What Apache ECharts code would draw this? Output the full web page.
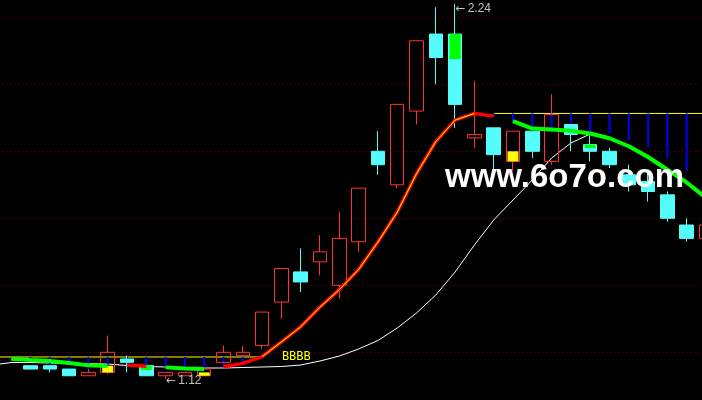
<!DOCTYPE html>
<html><head><meta charset="utf-8">
<script src="https://cdn.jsdelivr.net/npm/echarts@6/dist/echarts.min.js"></script>
<style>html,body{margin:0;padding:0;background:#000;}#c{width:702px;height:400px;}</style>
</head><body><div id="c"></div>
<script>
// ---- data (one entry per trading day, leftmost two days only carry line values) ----
const days = ['1','2','3','4','5','6','7','8','9','10','11','12','13','14','15','16','17','18','19','20',
  '21','22','23','24','25','26','27','28','29','30','31','32','33','34','35','36','37','38'];
const openP  = ['-','-',1.16,1.16,1.15,1.13,1.14,1.18,1.16,1.13,1.13,1.13,1.17,1.19,1.22,1.35,1.44,1.47,1.40,1.53,
  1.80,1.70,1.92,2.15,2.15,1.84,1.87,1.77,1.86,1.77,1.88,1.82,1.80,1.73,1.71,1.67,1.58,1.54];
const closeP = ['-','-',1.15,1.15,1.13,1.14,1.20,1.17,1.13,1.14,1.14,1.15,1.20,1.20,1.32,1.45,1.41,1.50,1.54,1.69,
  1.76,1.94,2.13,2.08,1.94,1.85,1.79,1.86,1.80,1.91,1.85,1.80,1.76,1.70,1.68,1.60,1.54,1.58];
const lowP   = ['-','-',1.15,1.14,1.13,1.13,1.135,1.14,1.13,1.12,1.13,1.13,1.17,1.19,1.21,1.30,1.38,1.43,1.36,1.50,
  1.73,1.69,1.88,2.00,1.87,1.81,1.74,1.74,1.78,1.76,1.80,1.77,1.75,1.68,1.65,1.59,1.53,1.54];
const highP  = ['-','-',1.16,1.16,1.15,1.15,1.25,1.19,1.16,1.14,1.14,1.15,1.22,1.22,1.32,1.45,1.51,1.55,1.62,1.69,
  1.86,1.94,2.13,2.23,2.24,2.01,1.87,1.86,1.86,1.97,1.88,1.85,1.81,1.76,1.74,1.68,1.60,1.58];
// thin white average line
const whiteLine = [1.162,1.1695,1.1695,1.168,1.167,1.1665,1.165,1.1605,1.1576,1.1561,1.1546,1.1531,1.1531,1.1546,1.1561,1.1576,
  1.162,1.174,1.1889,1.2098,1.2352,1.2725,1.3173,1.371,1.4397,1.5203,1.5949,1.6546,1.7143,1.7799,1.8247,1.8516,'-','-','-','-','-','-'];
// thick trend line and the colour of the segment that starts at each day (G green, R red, Y red with yellow core, '' none)
const trendLine = ['-',1.181,1.177,1.174,1.168,1.161,1.159,1.162,1.158,1.155,1.152,1.150,1.157,1.167,1.187,1.231,1.276,1.335,1.387,1.447,
  1.529,1.618,1.733,1.829,1.893,1.913,1.905,1.890,1.868,1.865,1.861,1.853,1.839,1.815,1.783,1.745,1.707,1.661];
const trendSeg  = ['','G','G','G','G','G','','R','','G','G','','R','R','Y','Y','Y','Y','Y','Y',
  'Y','Y','Y','Y','Y','R','','G','G','G','G','G','G','G','G','G','G',''];
// yellow level lines
const levelLine = [1.186,1.186,1.186,1.186,1.186,1.186,1.186,1.186,1.186,1.186,1.186,1.186,1.186,1.186,1.186,
  '-','-','-','-','-','-','-','-','-','-','-',1.913,1.913,1.913,1.913,1.913,1.913,1.913,1.913,1.913,1.913,1.913,1.913];
// blue sticks hanging from the level line
const blueEnd = ['-','-',1.174,1.162,1.167,1.147,1.162,1.180,1.162,1.157,1.157,1.154,1.157,1.168,'-','-','-','-','-','-',
  '-','-','-','-','-','-',1.903,1.890,1.873,1.869,1.881,1.855,1.854,1.834,1.811,1.781,1.742,'-'];
// highlight boxes inside candles: [day index, top, bottom]
const yellowBoxes = [[6,1.16,1.14],[11,1.14,1.13],[27,1.80,1.77]];
const greenBoxes  = [[8,1.16,1.147],[24,2.15,2.075],[31,1.82,1.81]];
// labels
const highMark = {day:24, value:2.24, text:'2.24'};
const lowMark  = {day:9, value:1.12, text:'1.12'};
const signalText = {day:15, value:1.186, text:'BBBB'};
const watermark = 'www.6o7o.com';

// ---- build ----
const RED='#FF3232', CYAN='#54FCFC';
const candleData = days.map((d,i)=> openP[i]==='-' ? '-' : [openP[i],closeP[i],lowP[i],highP[i]]);
function segData(codes){
  return trendLine.map((v,i)=>{
    const a = codes.includes(trendSeg[i]);
    const b = i>0 && codes.includes(trendSeg[i-1]);
    return (a||b) ? v : '-';
  });
}
const blueData = [];
blueEnd.forEach((v,i)=>{ if(v!=='-') blueData.push([i, levelLine[i], v]); });

function boxSeries(list, color){
  return {type:'custom', z:5, data:list, silent:true,
    renderItem:(p,api)=>{
      const a=api.coord([api.value(0),api.value(1)]), b=api.coord([api.value(0),api.value(2)]);
      return {type:'rect', shape:{x:a[0]-5.5, y:a[1], width:11, height:b[1]-a[1]}, style:{fill:color}};
    }};
}
const chart = echarts.init(document.getElementById('c'));
chart.setOption({
  backgroundColor:'#000', animation:false,
  grid:{left:-17.75, right:-13.65, top:-49.7, bottom:-19.3, containLabel:false, outerBoundsMode:'none'},
  xAxis:{type:'category', data:days, boundaryGap:true, axisLine:{show:false}, axisTick:{show:false}, axisLabel:{show:false}, splitLine:{show:false}},
  yAxis:{type:'value', min:1.0, max:2.4, interval:0.2, axisLine:{show:false}, axisTick:{show:false}, axisLabel:{show:false},
    splitLine:{show:true, lineStyle:{color:'#8A0000', type:[1,3], width:1}}},
  series:[
    {type:'line', z:1, data:whiteLine, symbol:'none', lineStyle:{color:'#FFFFFF', width:1}, silent:true},
    {type:'line', z:2, data:levelLine, symbol:'none', lineStyle:{color:'#FFFF00', width:1}, silent:true,
      markPoint:{symbol:'rect', symbolSize:1, itemStyle:{color:'transparent'}, silent:true,
        label:{show:true, position:'right', distance:0, color:'#FFFF00', fontFamily:'DejaVu Sans Mono', fontSize:12, formatter:p=>p.name},
        data:[{name:signalText.text, coord:[signalText.day, signalText.value]}]}},
    {type:'custom', z:3, data:blueData, silent:true,
      renderItem:(p,api)=>{
        const a=api.coord([api.value(0),api.value(1)]), b=api.coord([api.value(0),api.value(2)]);
        return {type:'line', shape:{x1:a[0],y1:a[1],x2:b[0],y2:b[1]}, style:{stroke:'#0000FF', lineWidth:2}};
      }},
    {type:'candlestick', z:4, data:candleData, barWidth:14, silent:true,
      itemStyle:{color:'transparent', color0:CYAN, borderColor:RED, borderColor0:CYAN, borderWidth:1},
      markPoint:{symbol:'rect', symbolSize:1, itemStyle:{color:'transparent'}, silent:true,
        label:{show:true, position:'right', distance:0, formatter:p=>'{a|←}{b|'+p.name+'}',
          rich:{a:{fontFamily:'DejaVu Sans', fontSize:12, color:'#C0C0C0', padding:[0,2,0,0]}, b:{fontFamily:'Liberation Sans', fontSize:12, color:'#C0C0C0'}}},
        data:[{name:highMark.text, coord:[highMark.day, highMark.value], label:{offset:[0,5]}},
              {name:lowMark.text, coord:[lowMark.day, lowMark.value], label:{offset:[0,1.5]}}]}},
    boxSeries(yellowBoxes,'#FFFF00'),
    boxSeries(greenBoxes,'#00FF00'),
    {type:'line', z:6, data:segData(['G']), symbol:'none', lineStyle:{color:'#00FF00', width:4}, silent:true},
    {type:'line', z:6, data:segData(['R','Y']), symbol:'none', lineStyle:{color:'#FF0000', width:3.5}, silent:true},
    {type:'line', z:7, data:segData(['Y']), symbol:'none', lineStyle:{color:'#FFFF00', width:1}, silent:true}
  ],
  graphic:[{type:'text', z:100, left:445, top:161, silent:true,
    style:{text:watermark, fill:'#FFFFFF', font:'bold 33px "Liberation Sans"'}}]
});
</script></body></html>
